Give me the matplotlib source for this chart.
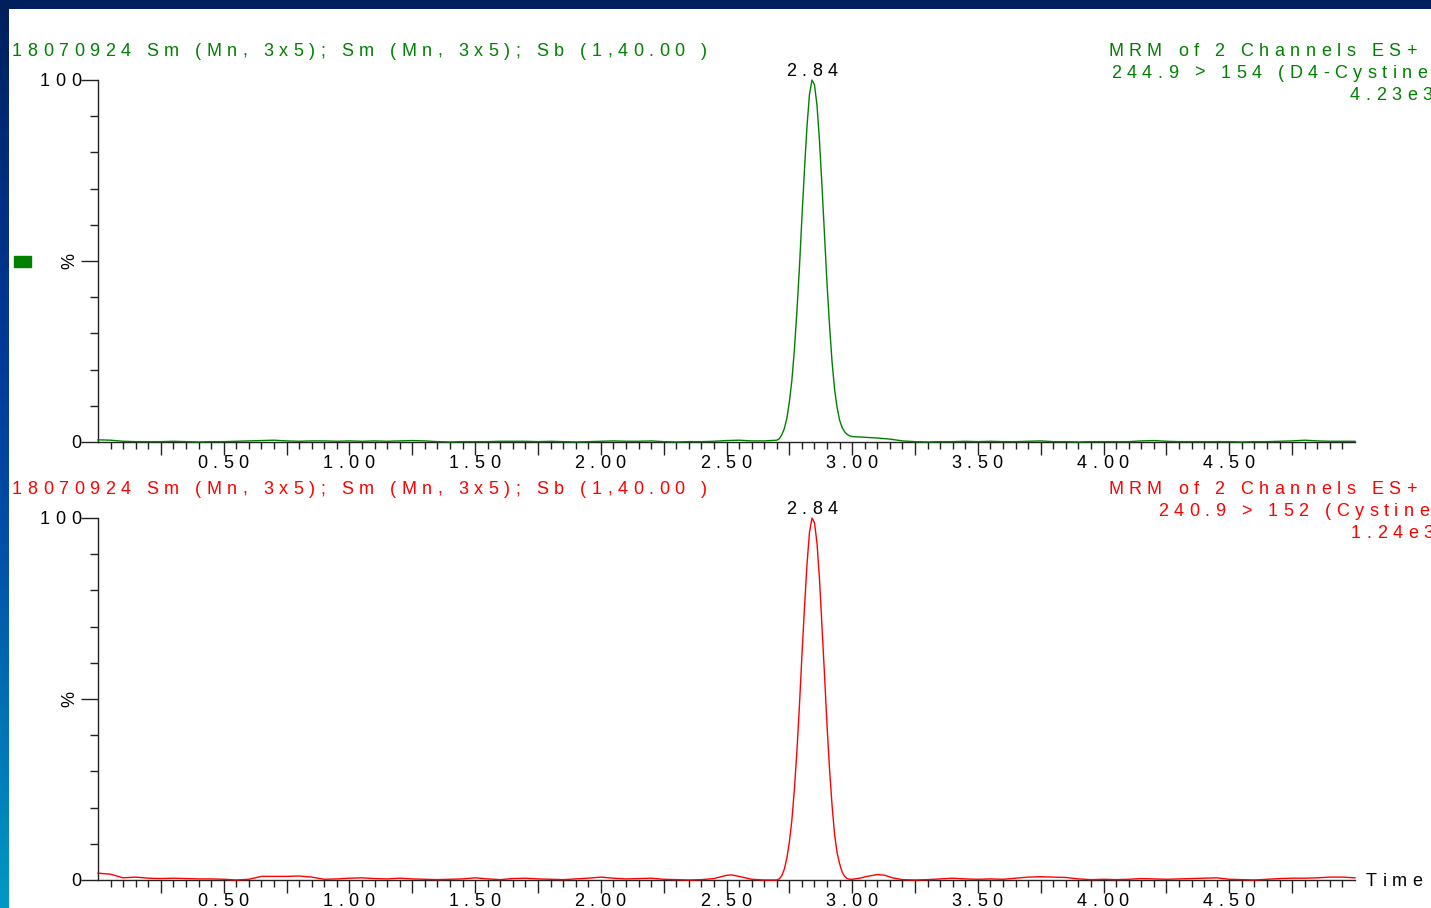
import numpy as np
import matplotlib
matplotlib.use('Agg')
import matplotlib.pyplot as plt
from matplotlib.colors import LinearSegmentedColormap
from matplotlib.font_manager import FontProperties, findfont, get_font

W, H, DPI = 1431, 908, 100
FS = 13
TRACK = 5.5
FAMILY = 'Liberation Sans'

# ---- data (time in min, intensity in %) ----
top_time = [0.00, 0.05, 0.10, 0.15, 0.20, 0.25, 0.30, 0.35, 0.40, 0.45, 0.50, 0.55, 0.60, 0.65,
            0.70, 0.75, 0.80, 0.85, 0.90, 0.95, 1.00, 1.05, 1.10, 1.15, 1.20, 1.25, 1.30, 1.35,
            1.40, 1.45, 1.50, 1.55, 1.60, 1.65, 1.70, 1.75, 1.80, 1.85, 1.90, 1.95, 2.00, 2.05,
            2.10, 2.15, 2.20, 2.25, 2.30, 2.35, 2.40, 2.45, 2.50, 2.55, 2.60, 2.65, 2.70, 2.71,
            2.72, 2.73, 2.74, 2.75, 2.76, 2.77, 2.78, 2.79, 2.80, 2.81, 2.82, 2.83, 2.84, 2.85,
            2.86, 2.87, 2.88, 2.89, 2.90, 2.91, 2.92, 2.93, 2.94, 2.95, 2.96, 2.97, 2.98, 2.99,
            3.00, 3.05, 3.10, 3.15, 3.20, 3.25, 3.30, 3.35, 3.40, 3.45, 3.50, 3.55, 3.60, 3.65,
            3.70, 3.75, 3.80, 3.85, 3.90, 3.95, 4.00, 4.05, 4.10, 4.15, 4.20, 4.25, 4.30, 4.35,
            4.40, 4.45, 4.50, 4.55, 4.60, 4.65, 4.70, 4.75, 4.80, 4.85, 4.90, 4.95, 5.00]
top_int = [0.6, 0.5, 0.2, 0.1, 0.1, 0.1, 0.2, 0.1, 0.0, 0.1, 0.1, 0.2, 0.3, 0.4,
           0.5, 0.3, 0.2, 0.3, 0.3, 0.2, 0.3, 0.2, 0.3, 0.2, 0.3, 0.4, 0.3, 0.1,
           0.0, 0.1, 0.1, 0.1, 0.2, 0.2, 0.2, 0.1, 0.2, 0.1, 0.0, 0.1, 0.2, 0.3,
           0.2, 0.2, 0.3, 0.1, 0.0, 0.1, 0.1, 0.2, 0.4, 0.5, 0.3, 0.3, 0.5, 0.9,
           2.0, 3.7, 6.5, 11.0, 17.0, 25.5, 36.0, 48.0, 62.0, 75.0, 87.0, 96.0, 100.0, 98.7,
           93.0, 83.0, 70.5, 57.0, 43.5, 32.0, 22.0, 14.5, 9.5, 6.0, 4.0, 2.8, 2.1, 1.7,
           1.5, 1.3, 1.1, 0.8, 0.3, 0.1, 0.0, 0.1, 0.1, 0.2, 0.1, 0.2, 0.1, 0.1,
           0.2, 0.3, 0.1, 0.1, 0.0, 0.1, 0.1, 0.1, 0.1, 0.3, 0.4, 0.2, 0.1, 0.1,
           0.1, 0.1, 0.1, 0.0, 0.1, 0.1, 0.2, 0.3, 0.5, 0.3, 0.2, 0.2, 0.2]

bot_time = [0.00, 0.05, 0.10, 0.15, 0.20, 0.25, 0.30, 0.35, 0.40, 0.45, 0.50, 0.55, 0.60, 0.65,
            0.70, 0.75, 0.80, 0.85, 0.90, 0.95, 1.00, 1.05, 1.10, 1.15, 1.20, 1.25, 1.30, 1.35,
            1.40, 1.45, 1.50, 1.55, 1.60, 1.65, 1.70, 1.75, 1.80, 1.85, 1.90, 1.95, 2.00, 2.05,
            2.10, 2.15, 2.20, 2.25, 2.30, 2.35, 2.40, 2.45, 2.50, 2.52, 2.55, 2.60, 2.65, 2.70,
            2.71, 2.72, 2.73, 2.74, 2.75, 2.76, 2.77, 2.78, 2.79, 2.80, 2.81, 2.82, 2.83, 2.84,
            2.85, 2.86, 2.87, 2.88, 2.89, 2.90, 2.91, 2.92, 2.93, 2.94, 2.95, 2.96, 2.97, 2.98,
            2.99, 3.00, 3.03, 3.06, 3.10, 3.13, 3.16, 3.20, 3.25, 3.30, 3.35, 3.40, 3.45, 3.50,
            3.55, 3.60, 3.65, 3.70, 3.75, 3.80, 3.85, 3.90, 3.95, 4.00, 4.05, 4.10, 4.15, 4.20,
            4.25, 4.30, 4.35, 4.40, 4.45, 4.50, 4.55, 4.60, 4.65, 4.70, 4.75, 4.80, 4.85, 4.90,
            4.95, 5.00]
bot_int = [1.9, 1.6, 0.6, 0.8, 0.5, 0.4, 0.5, 0.4, 0.3, 0.3, 0.2, 0.0, 0.2, 1.0,
           1.0, 1.0, 1.1, 0.8, 0.2, 0.3, 0.5, 0.6, 0.4, 0.3, 0.5, 0.3, 0.2, 0.1,
           0.2, 0.3, 0.6, 0.3, 0.1, 0.4, 0.5, 0.3, 0.2, 0.1, 0.3, 0.5, 0.8, 0.5,
           0.3, 0.4, 0.5, 0.2, 0.1, 0.0, 0.1, 0.4, 1.3, 1.4, 1.0, 0.2, 0.0, 0.0,
           0.3, 1.2, 3.0, 6.0, 10.5, 16.5, 25.0, 35.5, 48.0, 62.0, 75.0, 87.0, 96.0, 100.0,
           98.7, 93.0, 83.0, 70.0, 56.5, 42.5, 30.5, 20.5, 12.5, 7.5, 4.5, 2.2, 1.0, 0.4,
           0.2, 0.2, 0.5, 1.0, 1.5, 1.3, 0.6, 0.1, 0.0, 0.1, 0.3, 0.5, 0.3, 0.2,
           0.3, 0.2, 0.5, 0.8, 0.9, 0.8, 0.7, 0.3, 0.1, 0.2, 0.1, 0.2, 0.4, 0.3,
           0.2, 0.3, 0.4, 0.5, 0.6, 0.2, 0.1, 0.0, 0.2, 0.4, 0.5, 0.5, 0.6, 0.8,
           0.8, 0.6]

x_labels = ['0.50', '1.00', '1.50', '2.00', '2.50', '3.00', '3.50', '4.00', '4.50']
x_label_pos = [0.5, 1.0, 1.5, 2.0, 2.5, 3.0, 3.5, 4.0, 4.5]

left_title = '18070924 Sm (Mn, 3x5); Sm (Mn, 3x5); Sb (1,40.00 )'
top_right = ['MRM of 2 Channels ES+', '244.9 > 154 (D4-Cystine)', '4.23e3']
bot_right = ['MRM of 2 Channels ES+', '240.9 > 152 (Cystine)', '1.24e3']
peak_label = '2.84'

GREEN = '#008000'
RED = '#ff0000'

fig = plt.figure(figsize=(W / DPI, H / DPI), dpi=DPI, facecolor='white')

# blue frame of the slide
frame = LinearSegmentedColormap.from_list(
    'frame', ['#001f5c', '#002d80', '#003a98', '#0050a8', '#0074b4', '#0098c6'])
ax_l = fig.add_axes([0, 0, 9 / W, 1])
ax_l.imshow(np.linspace(0, 1, 256).reshape(-1, 1), cmap=frame, aspect='auto')
ax_l.axis('off')
ax_t = fig.add_axes([0, 1 - 9 / H, 1, 9 / H])
ax_t.set_facecolor('#001f5c')
ax_t.set_xticks([])
ax_t.set_yticks([])
for s in ax_t.spines.values():
    s.set_visible(False)

fig.patches.append(plt.Rectangle((14, H - 267), 17, 11, transform=None,
                                 color=GREEN, figure=fig))

_fp = FontProperties(family=FAMILY, size=FS)
_font = get_font(findfont(_fp))


def adv(ch):
    _font.set_size(FS, DPI)
    return _font.load_char(ord(ch)).linearHoriAdvance / 65536


def spaced(ax, s, xy, xycoords, dx=0, dy=0, ha='left', color='black'):
    # MassLynx style letter spacing: one text per character
    widths = [adv(c) for c in s]
    total = sum(widths) + TRACK * (len(s) - 1)
    x = dx - {'left': 0, 'center': total / 2, 'right': total}[ha]
    for c, w in zip(s, widths):
        if c != ' ':
            ax.annotate(c, xy=xy, xycoords=xycoords, xytext=(x, dy),
                        textcoords='offset pixels', ha='left', va='baseline',
                        color=color, fontsize=FS, family=FAMILY,
                        annotation_clip=False)
        x += w + TRACK


def panel(bottom_px, t, y, color, right_lines, right_x, title_base):
    ax = fig.add_axes([98 / W, (H - bottom_px) / H, 1257 / W, 362 / H])
    ax.plot(t, y, color=color, lw=1.0, clip_on=False, zorder=3)
    ax.set_xlim(0, 5)
    ax.set_ylim(0, 100)
    for s in ['top', 'right']:
        ax.spines[s].set_visible(False)
    for s in ['left', 'bottom']:
        ax.spines[s].set_color('#222222')
        ax.spines[s].set_linewidth(1.0)
    ax.set_xticks(np.arange(0.25, 4.8, 0.25))
    ax.set_xticks(np.arange(0.05, 4.99, 0.05), minor=True)
    ax.set_yticks([0, 50, 100])
    ax.set_yticks(np.arange(10, 100, 10), minor=True)
    ax.tick_params(axis='x', which='major', length=9, width=1, color='#222222',
                   labelbottom=False)
    ax.tick_params(axis='x', which='minor', length=5, width=1, color='#222222')
    ax.tick_params(axis='y', which='major', length=12, width=1, color='#222222',
                   labelleft=False)
    ax.tick_params(axis='y', which='minor', length=6, width=1, color='#222222')

    xt = ax.get_xaxis_transform()
    for pos, lab in zip(x_label_pos, x_labels):
        spaced(ax, lab, (pos, 0), xt, dx=-1, dy=-26, ha='center')
    spaced(ax, '100', (0, 100), 'data', dx=-17, dy=-6, ha='right')
    spaced(ax, '0', (0, 0), 'data', dx=-17, dy=-6, ha='right')
    ax.annotate('%', xy=(0, 50), xycoords='data', xytext=(-28, 0),
                textcoords='offset pixels', rotation=90, ha='center', va='center',
                fontsize=FS, family=FAMILY)

    i = int(np.argmax(y))
    spaced(ax, peak_label, (t[i], 100), 'data', dy=3.5, ha='center')

    spaced(ax, left_title, (12, H - title_base), 'figure pixels', color=color)
    for k, (line, x0) in enumerate(zip(right_lines, right_x)):
        spaced(ax, line, (x0, H - title_base - 22 * k), 'figure pixels', color=color)
    return ax


panel(442, top_time, top_int, GREEN, top_right, [1108, 1111, 1350], 55.5)
ax2 = panel(880, bot_time, bot_int, RED, bot_right, [1108, 1158, 1351], 494)
spaced(ax2, 'Time', (1366, H - 886), 'figure pixels')

fig.savefig('out.png', dpi=DPI)
